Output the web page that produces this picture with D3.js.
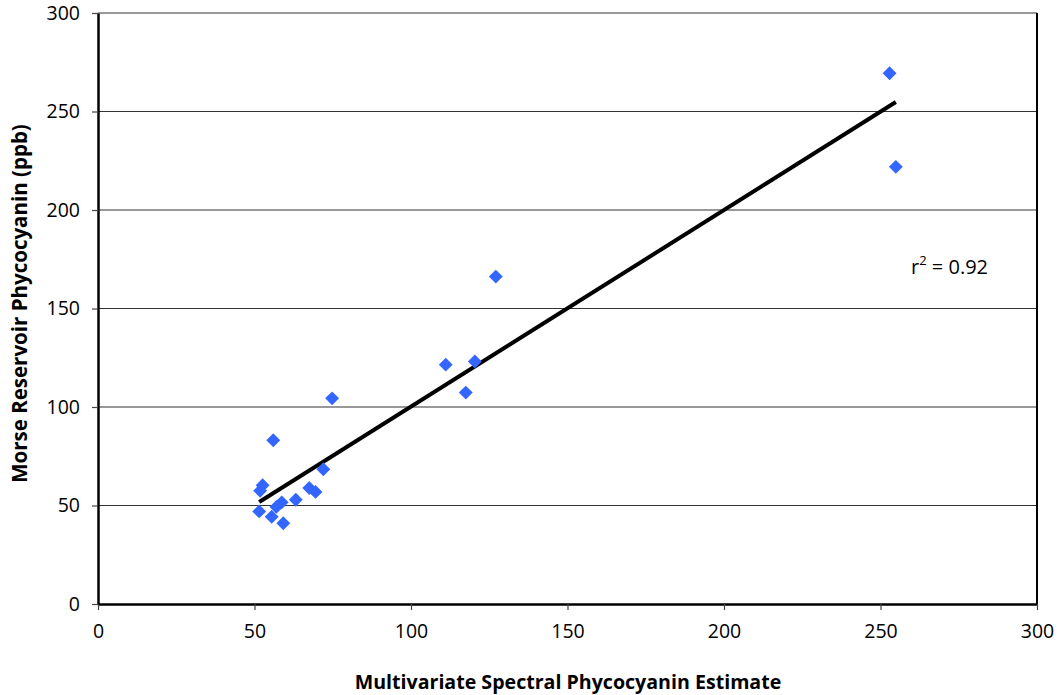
<!DOCTYPE html>
<html>
<head>
<meta charset="utf-8">
<script src="https://cdn.jsdelivr.net/npm/d3@7"></script>
<style>
  body { margin: 0; background: #fff; }
  text { font-family: "Open Sans", sans-serif; fill: #000; }
</style>
</head>
<body>
<div id="chart"></div>
<script>
// data
const estimate = [252.9, 254.9, 127.1, 111.1, 120.4, 117.5, 74.8, 56.0, 72.0, 52.6, 51.8, 67.5, 69.5, 63.2, 51.5, 58.7, 57.0, 55.5, 59.2];
const measured = [269.4, 221.9, 166.2, 121.5, 123.1, 107.3, 104.4, 83.1, 68.4, 60.3, 57.5, 58.9, 56.9, 52.9, 47.0, 51.6, 49.3, 44.3, 41.0];
const xTicks = [0, 50, 100, 150, 200, 250, 300];
const yTicks = [0, 50, 100, 150, 200, 250, 300];
const fitSlope = 0.998, fitIntercept = 0.4;
const r2Label = "0.92";

const width = 1062, height = 695;
const margin = { top: 13, right: 25, bottom: 91, left: 98 };

const svg = d3.select('#chart').append('svg')
  .attr('width', width)
  .attr('height', height);

const x = d3.scaleLinear().domain([0, 300]).range([margin.left, width - margin.right]);
const y = d3.scaleLinear().domain([0, 300]).range([height - margin.bottom, margin.top]);

// GRIDLINES
svg.append('g')
  .selectAll('line')
  .data(yTicks.filter(d => d > 0))
  .enter().append('line')
  .attr('x1', x(0)).attr('x2', x(300))
  .attr('y1', d => y(d)).attr('y2', d => y(d))
  .attr('stroke', '#333').attr('stroke-width', 1.2);

// right border
svg.append('line')
  .attr('x1', x(300)).attr('x2', x(300))
  .attr('y1', y(0)).attr('y2', y(300))
  .attr('stroke', '#000').attr('stroke-width', 2);

// AXES
const xAxis = svg.append('g')
  .attr('transform', `translate(0,${y(0)})`)
  .call(d3.axisBottom(x).tickValues(xTicks).tickSize(6).tickSizeOuter(0).tickPadding(14));

const yAxis = svg.append('g')
  .attr('transform', `translate(${x(0)},0)`)
  .call(d3.axisLeft(y).tickValues(yTicks).tickSize(6).tickSizeOuter(0).tickPadding(12));

[xAxis, yAxis].forEach(a => {
  a.select('.domain').attr('stroke', '#000').attr('stroke-width', 2.5);
  a.selectAll('.tick line').attr('stroke', '#444').attr('stroke-width', 1.2);
  a.selectAll('.tick text')
    .style('font-family', '"Open Sans", sans-serif')
    .style('font-size', '19.5px')
    .attr('fill', '#000');
});

// TREND LINE
const xMin = d3.min(estimate), xMax = d3.max(estimate);
svg.append('line')
  .attr('x1', x(xMin)).attr('y1', y(fitSlope * xMin + fitIntercept))
  .attr('x2', x(xMax)).attr('y2', y(fitSlope * xMax + fitIntercept))
  .attr('stroke', '#000').attr('stroke-width', 4);

// POINTS
const points = estimate.map((d, i) => ({ x: d, y: measured[i] }));
svg.append('g')
  .selectAll('path')
  .data(points)
  .enter().append('path')
  .attr('d', d3.symbol().type(d3.symbolSquare).size(96))
  .attr('transform', d => `translate(${x(d.x)},${y(d.y)}) rotate(45)`)
  .attr('fill', '#3366ff');

// r2 label
const r2 = svg.append('text')
  .attr('x', 911).attr('y', 274)
  .style('font-size', '20px');
r2.append('tspan').text('r');
r2.append('tspan').attr('dy', -9).style('font-size', '13px').text('2');
r2.append('tspan').attr('dy', 9).text(' = ' + r2Label);

// AXIS TITLES
svg.append('text')
  .attr('x', 568).attr('y', 689)
  .attr('text-anchor', 'middle')
  .style('font-size', '19.6px').style('font-weight', 'bold')
  .text('Multivariate Spectral Phycocyanin Estimate');

svg.append('text')
  .attr('transform', `translate(27,${y(150) - 5}) rotate(-90)`)
  .attr('text-anchor', 'middle')
  .style('font-size', '20.5px').style('font-weight', 'bold')
  .text('Morse Reservoir Phycocyanin (ppb)');
</script>
</body>
</html>
